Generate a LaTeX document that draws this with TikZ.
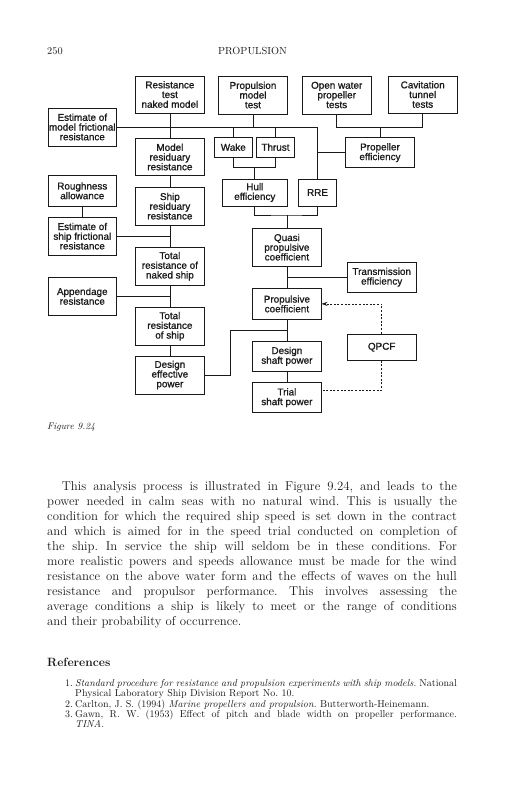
\documentclass[tikz,border=0pt]{standalone}
\usepackage{fontspec}
\newfontfamily\boxfont{Liberation Sans}[FakeBold=1.0]
\usetikzlibrary{arrows.meta}
\definecolor{ink}{HTML}{1A1A1A}
\frenchspacing
\begin{document}
\begin{tikzpicture}[x=1pt,y=-1pt,color=ink,
 bx/.style={draw=ink, line width=0.75pt, inner sep=0pt, align=center, text=ink,
   font=\boxfont\fontsize{9.9}{9.7}\selectfont, minimum width=68.4pt},
 ln/.style={draw=ink, line width=0.65pt},
 dsh/.style={draw=ink, line width=0.6pt, dash pattern=on 2pt off 1.6pt},
 txt/.style={inner sep=0pt, text=ink}]
\useasboundingbox[fill=white] (0,0) rectangle (505,800);

% header
\node[txt, anchor=base west, font=\fontsize{10.3}{12}\selectfont] (pg) at (47,55) {250};
\node[txt, anchor=base, font=\fontsize{10.3}{12}\selectfont] (hd) at (252.5,55) {PROPULSION};

% boxes
\node[bx, minimum height=37pt] (rt) at (169.9,94.5) {Resistance\\test\\naked model};
\node[bx, minimum height=38pt] (pm) at (253,95) {Propulsion\\model\\test};
\node[bx, minimum height=38pt] (ow) at (336.7,95) {Open water\\propeller\\tests};
\node[bx, minimum height=37pt] (ct) at (422.7,94.5) {Cavitation\\tunnel\\tests};
\node[bx, minimum height=38pt] (emf) at (82.3,127) {Estimate of\\model frictional\\resistance};
\node[bx, minimum height=37.4pt] (mr) at (169.9,157) {Model\\residuary\\resistance};
\node[bx, minimum width=38pt, minimum height=20.3pt] (wake) at (233.3,147.2) {Wake};
\node[bx, minimum width=37.6pt, minimum height=20.3pt] (thr) at (275.5,147.2) {Thrust};
\node[bx, minimum height=30pt] (pe) at (380,152.7) {Propeller\\efficiency};
\node[bx, minimum height=30.3pt] (ra) at (82.3,190.8) {Roughness\\allowance};
\node[bx, minimum height=37.7pt] (sr) at (169.9,206.2) {Ship\\residuary\\resistance};
\node[bx, minimum width=65pt, minimum height=27pt] (hull) at (254.8,192.5) {Hull\\efficiency};
\node[bx, minimum width=38.4pt, minimum height=27pt] (rre) at (317.5,192.5) {RRE};
\node[bx, minimum height=37.7pt] (esf) at (82.3,236.2) {Estimate of\\ship frictional\\resistance};
\node[bx, minimum height=37.7pt] (qpc) at (286.9,247.2) {Quasi\\propulsive\\coefficient};
\node[bx, minimum height=37.7pt] (tn) at (169.9,266.2) {Total\\resistance of\\naked ship};
\node[bx, minimum height=29.7pt] (te) at (381.7,277.2) {Transmission\\efficiency};
\node[bx, minimum height=38pt] (ar) at (82.3,296.3) {Appendage\\resistance};
\node[bx, minimum height=30.3pt] (pc) at (286.9,303.9) {Propulsive\\coefficient};
\node[bx, minimum height=38pt] (ts) at (169.9,326.3) {Total\\resistance\\of ship};
\node[bx, minimum height=26.3pt] (qpcf) at (381.7,347.2) {QPCF};
\node[bx, minimum height=30.7pt] (dsp) at (286.9,356.3) {Design\\shaft power};
\node[bx, minimum height=38pt] (dep) at (169.9,375) {Design\\effective\\power};
\node[bx, minimum height=30pt] (tsp) at (286.9,397.7) {Trial\\shaft power};

% connectors (top)
\draw[ln] (emf.east) -| (rre.north);
\draw[ln] (rt.south) -- (mr.north);
\draw[ln] (pm.south) -- (pm.south |- emf.east);
\draw[ln] (wake.north) -- (wake.north |- emf.east);
\draw[ln] (thr.north) -- (thr.north |- emf.east);
\coordinate (wt) at (254.8,167.7);
\draw[ln] (wake.south) |- (wt) -| (thr.south);
\draw[ln] (wt) -- (hull.north);
\coordinate (hr) at (286.9,215);
\draw[ln] (hull.south) |- (hr) -| (rre.south);
\draw[ln] (hr) -- (qpc.north);
\coordinate (oc) at (380,127.3);
\draw[ln] (ow.south) |- (oc) -| (ct.south);
\draw[ln] (oc) -- (pe.north);
\draw[ln] (pe.west) -- (pe.west -| rre.north);

% left chain
\draw[ln] (mr.south) -- (sr.north);
\draw[ln] (sr.south) -- (tn.north);
\draw[ln] (esf.east) -- (esf.east -| sr.south);
\draw[ln] (tn.south) -- (ts.north);
\draw[ln] (ar.east) -- (ar.east -| tn.south);
\draw[ln] (ts.south) -- (dep.north);
\draw[ln] (ra.south) -- (esf.north);

% right chain
\draw[ln] (qpc.south) -- (pc.north);
\draw[ln] (te.west) -- (te.west -| qpc.south);
\draw[ln] (pc.south) -- (dsp.north);
\draw[ln] (dsp.south) -- (tsp.north);
\coordinate (dj) at (230,330);
\draw[ln] (dep.east) -| (dj) -- (dj -| pc.south);

% dashed
\draw[dsh, -{Stealth[length=6pt,width=4pt]}] (qpcf.north) |- (pc.east);
\draw[dsh] (qpcf.south) |- ([yshift=7.7pt]tsp.east);

% caption
\node[txt, anchor=base west, font=\itshape\fontsize{9.6}{11}\selectfont] (fig) at (47,429) {Figure 9.24};

% paragraph
\node[txt, anchor=north west, text width=409.7pt, align=justify, font=\fontsize{12.8}{15.1}\selectfont] (para) at (47,481)
{\tolerance=9999 \hyphenpenalty=10000 \frenchspacing \noindent\hspace*{14.7pt}This analysis process is illustrated in Figure 9.24, and leads to the\linebreak
power needed in calm seas with no natural wind. This is usually the\linebreak
condition for which the required ship speed is set down in the contract\linebreak
and which is aimed for in the speed trial conducted on completion of\linebreak
the ship. In service the ship will seldom be in these conditions. For\linebreak
more realistic powers and speeds allowance must be made for the wind\linebreak
resistance on the above water form and the effects of waves on the hull\linebreak
resistance and propulsor performance. This involves assessing the\linebreak
average conditions a ship is likely to meet or the range of conditions\linebreak
and their probability of occurrence.\par};

% references
\node[txt, anchor=base west, font=\bfseries\fontsize{12}{14}\selectfont] (refh) at (47,666) {References};
\node[txt, anchor=north west, text width=409.7pt, align=justify, font=\fontsize{10}{10.4}\selectfont] (refs) at (47,679)
{\tolerance=9999 \hyphenpenalty=10000 \frenchspacing \leftskip=28pt
\noindent\llap{\makebox[10pt][l]{1.}}\textit{Standard procedure for resistance and propulsion experiments with ship models.} National\linebreak
Physical Laboratory Ship Division Report No.~10.\par
\noindent\llap{\makebox[10pt][l]{2.}}Carlton, J.~S. (1994) \textit{Marine propellers and propulsion.} Butterworth-Heinemann.\par
\noindent\llap{\makebox[10pt][l]{3.}}Gawn, R.~W. (1953) Effect of pitch and blade width on propeller performance.\linebreak
\textit{TINA.}\par};
\end{tikzpicture}
\end{document}
